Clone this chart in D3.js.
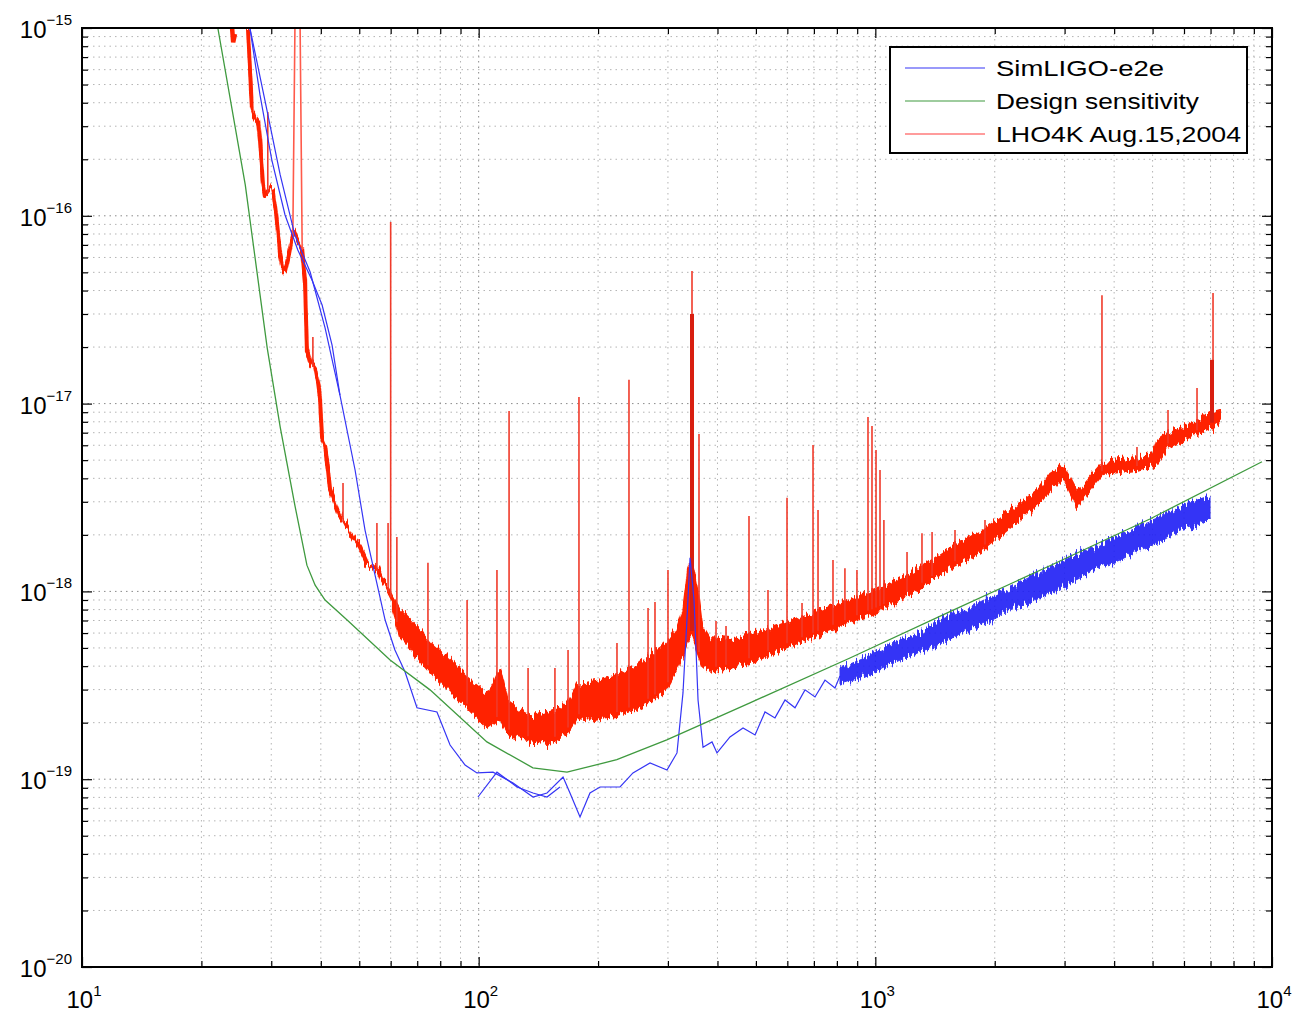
<!DOCTYPE html>
<html><head><meta charset="utf-8">
<script src="https://cdn.jsdelivr.net/npm/d3@7"></script>
<style>
body{margin:0;background:#fff}
text{font-family:"Liberation Sans",Arial,Helvetica,sans-serif;fill:#000}
</style>
</head><body>
<svg id="chart" width="1293" height="1013"></svg>
<script>
// ---------------- data ----------------
const xTickExp = ["1","2","3","4"];
const yTickExp = ["\u221220","\u221219","\u221218","\u221217","\u221216","\u221215"];
const legendLabels = ["SimLIGO-e2e","Design sensitivity","LHO4K Aug.15,2004"];

// Design sensitivity (green)
const designFreq   = [22.0,25.8,29.3,31.6,34.4,36.9,38.7,41.0,46.6,59.8,75.4,104.9,137,167,223,298,483,863,1542,2754,4922,9436];
const designStrain = [1.0e-15,1.46e-16,1.98e-17,7.5e-18,2.88e-18,1.38e-18,1.08e-18,9.0e-19,7.05e-19,4.31e-19,2.99e-19,1.58e-19,1.15e-19,1.09e-19,1.27e-19,1.62e-19,2.55e-19,4.42e-19,7.8e-19,1.37e-18,2.43e-18,4.9e-18];

// SimLIGO-e2e (blue) main trace
const simFreq   = [26.5,28.9,31.6,34.4,37.6,41.0,44.7,48.8,51.7,54.8,58.1,61.5,65.2,69.9,78.5,84.7,92.4,99.0,108.7,122.1,137.1,148.7,163.2,169.9,180.1,190.8,202.3,227.2,244.9,270.4,298.4,316.2,327.4,335.0,341.1,349.1,357.3,367.8,387.5,398.9,430.1,463.9,497.5,527,558.5,592,627.4,664.8,704.6,746.6,791.2,814.7];
const simStrain = [1.0e-15,4.14e-16,1.65e-16,7.9e-17,5.02e-17,2.53e-17,1.11e-17,4.43e-18,2.12e-18,1.22e-18,7.04e-19,4.88e-19,3.73e-19,2.40e-19,2.28e-19,1.52e-19,1.19e-19,1.08e-19,1.09e-19,9.55e-20,8.04e-20,8.44e-20,1.027e-19,8.44e-20,6.29e-20,8.44e-20,9.09e-20,9.09e-20,1.08e-19,1.22e-19,1.12e-19,1.38e-19,2.88e-19,7.04e-19,1.51e-18,9.0e-19,2.64e-19,1.48e-19,1.58e-19,1.38e-19,1.68e-19,1.875e-19,1.72e-19,2.28e-19,2.12e-19,2.64e-19,2.40e-19,2.99e-19,2.74e-19,3.37e-19,3.06e-19,3.55e-19];
// second SimLIGO traces (low-frequency and 100-160 Hz)
const simLowFreq   = [26.5,28.1,30.1,32.5,35.0,38.0,40.3,42.7,44.7];
const simLowStrain = [1.0e-15,4.40e-16,1.98e-16,1.01e-16,6.57e-17,4.55e-17,3.35e-17,2.05e-17,1.11e-17];
const simMidFreq   = [99.6,111.2,124.9,137.1,148.7,160.3];
const simMidStrain = [8.04e-20,1.09e-19,9.09e-20,8.44e-20,8.04e-20,9.09e-20];
// SimLIGO high-frequency noisy band (upper / lower edge)
const simBandFreq  = [814.7,915.0,1027.5,1154,1296,1455,1635,1836,2062,2316,2601,2922,3281,3685,4139,4647,5220,5861,6585,6979];
const simBandUpper = [3.91e-19,4.31e-19,4.88e-19,5.51e-19,6.08e-19,7.04e-19,7.77e-19,8.78e-19,9.93e-19,1.12e-18,1.27e-18,1.43e-18,1.60e-18,1.81e-18,2.0e-18,2.26e-18,2.49e-18,2.81e-18,3.11e-18,3.22e-18];
const simBandLower = [3.21e-19,3.45e-19,3.82e-19,4.31e-19,4.76e-19,5.25e-19,5.93e-19,6.54e-19,7.39e-19,8.36e-19,9.22e-19,1.042e-18,1.18e-18,1.33e-18,1.47e-18,1.66e-18,1.83e-18,2.12e-18,2.28e-18,2.46e-18];

// LHO4K Aug.15,2004 (red)
const lhoTopFreq   = [23.9,24.05,24.3];
const lhoTopStrain = [1.0e-15,8.4e-16,9.3e-16];
const lhoLowFreq   = [26.2,26.8,27.3,27.8,28.1,28.6,28.9,29.4,29.8,30.3,31.0,31.6,32.1,32.5,33.1,33.7,34.2,35.9,36.5,36.9,37.6,38.2,38.7,39.4,39.8,40.3,41.0,41.7,42.2,43.4,44.7,46.0,47.4,48.8,50.2,52.3,53.8,55.8,57.4,59.1,60.8];
const lhoLowStrain = [1.0e-15,3.75e-16,3.32e-16,3.16e-16,2.53e-16,1.46e-16,1.29e-16,1.35e-16,1.40e-16,1.37e-16,9.27e-17,6.18e-17,5.14e-17,5.02e-17,5.95e-17,7.25e-17,8.2e-17,6.57e-17,4.44e-17,1.93e-17,1.67e-17,1.61e-17,1.55e-17,1.26e-17,1.07e-17,6.56e-18,6.0e-18,4.43e-18,3.47e-18,2.96e-18,2.49e-18,2.34e-18,2.07e-18,1.88e-18,1.72e-18,1.42e-18,1.39e-18,1.30e-18,1.11e-18,1.017e-18,9.0e-19];
const lhoPeakFreq   = [34.0,34.6,35.3,35.9];
const lhoPeakStrain = [7.8e-17,3e-15,3e-15,6.6e-17];
const lhoBandFreq  = [60.8,63.3,67.1,71.1,76.7,84.7,93.5,104.9,109.9,113.2,117.9,127.1,137.1,148.7,160.3,169.9,177.0,190.8,202.3,223.2,244.9,270.4,286.5,298.4,316.2,327.4,337.1,345.0,355.2,365.6,383.0,430.1,483.1,575.1,645.9,768.6,863.5,1027.5,1274,1542,1868,2276,2601,2756,2972,3096,3224,3477,3750,4139,4567,5012,5129,5436,5965,6585,6979,7394];
const lhoBandUpper = [9.22e-19,7.96e-19,7.04e-19,6.23e-19,5.18e-19,4.31e-19,3.45e-19,2.81e-19,3.37e-19,3.91e-19,2.64e-19,2.34e-19,2.17e-19,2.28e-19,2.40e-19,2.64e-19,3.17e-19,3.29e-19,3.37e-19,3.59e-19,3.91e-19,4.59e-19,5.0e-19,5.38e-19,6.38e-19,7.96e-19,1.30e-18,1.47e-18,1.08e-18,6.62e-19,5.65e-19,5.51e-19,5.86e-19,6.62e-19,7.30e-19,8.26e-19,9.0e-19,1.042e-18,1.30e-18,1.70e-18,2.12e-18,2.85e-18,3.56e-18,4.22e-18,4.65e-18,4.02e-18,3.39e-18,4.07e-18,4.89e-18,5.01e-18,5.13e-18,5.46e-18,6.4e-18,6.98e-18,7.51e-18,8.18e-18,8.92e-18,9.25e-18];
const lhoBandLower = [7.77e-19,5.72e-19,5.0e-19,4.31e-19,3.59e-19,2.92e-19,2.40e-19,1.875e-19,2.02e-19,2.07e-19,1.764e-19,1.66e-19,1.58e-19,1.52e-19,1.66e-19,1.83e-19,2.12e-19,2.07e-19,2.12e-19,2.17e-19,2.34e-19,2.58e-19,2.81e-19,3.06e-19,3.82e-19,4.59e-19,5.51e-19,5.86e-19,4.88e-19,4.06e-19,3.73e-19,3.91e-19,4.21e-19,4.88e-19,5.38e-19,6.23e-19,6.87e-19,7.96e-19,1.017e-18,1.33e-18,1.66e-18,2.34e-18,2.96e-18,3.47e-18,4.02e-18,3.39e-18,2.85e-18,3.47e-18,4.22e-18,4.32e-18,4.43e-18,4.71e-18,4.89e-18,5.80e-18,6.4e-18,6.98e-18,7.42e-18,7.98e-18];
// spectral lines (frequency, peak height)
const lineFreq = [29.4,38.2,45.5,55.4,59.1,60.0,62.2,74.5,93.5,111.2,119.3,133.2,155.7,168.0,179.0,223.2,239.3,267.3,278.3,300.1,345.0,359.3,396.6,420.3,480.3,536.3,598.9,653.4,696.5,717.0,782.1,838.2,898.8,958.3,980.8,1004,1027.5,1051,1202,1311,1390,1588,1890,3727,4567,5468,6471,7101];
const linePeak = [3.57e-16,2.26e-17,3.78e-18,2.31e-18,2.31e-18,9.27e-17,1.95e-18,1.42e-18,9.0e-19,1.30e-18,9.14e-18,3.91e-19,3.91e-19,4.88e-19,1.084e-17,5.31e-19,1.34e-17,8.16e-19,8.78e-19,1.30e-18,5.08e-17,6.89e-18,6.96e-19,6.54e-19,2.52e-18,1.017e-18,3.15e-18,8.68e-19,6.02e-18,2.71e-18,1.47e-18,1.33e-18,1.30e-18,8.49e-18,7.6e-18,5.66e-18,4.43e-18,2.4e-18,1.62e-18,2.04e-18,2.07e-18,2.12e-18,2.4e-18,3.78e-17,5.87e-18,9.25e-18,1.21e-17,3.88e-17];
const strongLineFreq = [345.0,7060];
const strongLinePeak = [3.0e-17,1.71e-17];

// ---------------- layout ----------------
const L = 82, R = 1272, T = 28, B = 967;
const x = d3.scaleLog().domain([10, 1e4]).range([L, R]);
const y = d3.scaleLog().domain([1e-20, 1e-15]).range([B, T]);

const svg = d3.select("#chart");
svg.append("rect").attr("width",1293).attr("height",1013).attr("fill","#fff");
const defs = svg.append("defs");
defs.append("clipPath").attr("id","clip")
  .append("rect").attr("x",L).attr("y",T).attr("width",R-L).attr("height",B-T);
// vertical-only jitter filter to give the measured spectra their noisy texture
function noiseFilter(id, freq, scale, seed){
  const f = defs.append("filter").attr("id",id)
    .attr("filterUnits","userSpaceOnUse").attr("x",0).attr("y",0).attr("width",1293).attr("height",1013);
  f.append("feTurbulence").attr("type","fractalNoise").attr("baseFrequency",freq)
    .attr("numOctaves",2).attr("seed",seed).attr("result","t");
  f.append("feColorMatrix").attr("in","t").attr("type","matrix")
    .attr("values","0 0 0 0 0.5  0 1 0 0 0  0 0 0 0 0  0 0 0 0 1").attr("result","m");
  f.append("feDisplacementMap").attr("in","SourceGraphic").attr("in2","m")
    .attr("scale",scale).attr("xChannelSelector","R").attr("yChannelSelector","G");
}
noiseFilter("noiseRed","0.45 0.04",16,4);
noiseFilter("noiseBlue","0.5 0.05",18,9);

const isMajor = v => Math.abs(Math.log10(v) - Math.round(Math.log10(v))) < 1e-6;
const xAll = x.ticks(), yAll = y.ticks();
const xMajor = xAll.filter(isMajor), xMinor = xAll.filter(v => !isMajor(v));
const yMajor = yAll.filter(isMajor), yMinor = yAll.filter(v => !isMajor(v));

// grid
const grid = svg.append("g");
grid.selectAll(".gx").data(xAll).join("line")
  .attr("x1",d=>x(d)).attr("x2",d=>x(d)).attr("y1",T).attr("y2",B)
  .attr("stroke",d=>isMajor(d)?"#8a8a8a":"#b4b4b4").attr("stroke-width",1)
  .attr("stroke-dasharray","1.5,4");
grid.selectAll(".gy").data(yAll).join("line")
  .attr("y1",d=>y(d)).attr("y2",d=>y(d)).attr("x1",L).attr("x2",R)
  .attr("stroke",d=>isMajor(d)?"#8a8a8a":"#b4b4b4").attr("stroke-width",1)
  .attr("stroke-dasharray","1.5,4");

// ---------------- series ----------------
const zip = (a,b) => a.map((v,i)=>[v,b[i]]);
const line = d3.line().x(d=>x(d[0])).y(d=>y(d[1]));
const plot = svg.append("g").attr("clip-path","url(#clip)");

function interpY(fArr, vArr, f){
  const xs = fArr.map(v=>x(v)), px = x(f);
  const i = d3.bisectLeft(xs, px);
  if (i <= 0) return y(vArr[0]);
  if (i >= xs.length) return y(vArr[vArr.length-1]);
  const t = (px - xs[i-1])/(xs[i]-xs[i-1]);
  return y(vArr[i-1]) + t*(y(vArr[i]) - y(vArr[i-1]));
}
function baseY(f){
  return f < lhoBandFreq[0] ? interpY(lhoLowFreq, lhoLowStrain, f) + 2
                            : interpY(lhoBandFreq, lhoBandLower, f) - 4;
}

const RED = "#ff2200";
// red band
const bandData = lhoBandFreq.map((f,i)=>[f,lhoBandUpper[i],lhoBandLower[i]]);
const redG = plot.append("g").attr("filter","url(#noiseRed)");
redG.append("path").datum(bandData)
  .attr("d", d3.area().x(d=>x(d[0])).y0(d=>y(d[2])).y1(d=>y(d[1])))
  .attr("fill",RED).attr("stroke",RED).attr("stroke-width",2).attr("stroke-linejoin","round");
// red low-frequency trace
redG.append("path").datum(zip(lhoLowFreq,lhoLowStrain)).attr("d",line)
  .attr("fill","none").attr("stroke",RED).attr("stroke-width",4).attr("stroke-linejoin","round");
plot.append("path").datum(zip(lhoTopFreq,lhoTopStrain)).attr("d",line)
  .attr("fill","none").attr("stroke",RED).attr("stroke-width",4.5);
plot.append("path").datum(zip(lhoPeakFreq,lhoPeakStrain)).attr("d",line)
  .attr("fill","none").attr("stroke","#ff5a4a").attr("stroke-width",1.6);
// spectral lines
plot.selectAll(".spk").data(zip(lineFreq,linePeak)).join("line")
  .attr("x1",d=>x(d[0])).attr("x2",d=>x(d[0]))
  .attr("y1",d=>baseY(d[0])).attr("y2",d=>y(d[1]))
  .attr("stroke","#f03a2a").attr("stroke-width",1.6);
plot.selectAll(".spk2").data(zip(strongLineFreq,strongLinePeak)).join("line")
  .attr("x1",d=>x(d[0])).attr("x2",d=>x(d[0]))
  .attr("y1",d=>baseY(d[0])).attr("y2",d=>y(d[1]))
  .attr("stroke","#d81e10").attr("stroke-width",4);

// blue
const BLUE = "#3535f5";
plot.append("path").datum(zip(simFreq,simStrain)).attr("d",line)
  .attr("fill","none").attr("stroke",BLUE).attr("stroke-width",1.2);
plot.append("path").datum(zip(simLowFreq,simLowStrain)).attr("d",line)
  .attr("fill","none").attr("stroke",BLUE).attr("stroke-width",1.2);
plot.append("path").datum(zip(simMidFreq,simMidStrain)).attr("d",line)
  .attr("fill","none").attr("stroke",BLUE).attr("stroke-width",1.2);
const simBand = simBandFreq.map((f,i)=>[f,simBandUpper[i],simBandLower[i]]);
plot.append("g").attr("filter","url(#noiseBlue)").append("path").datum(simBand)
  .attr("d", d3.area().x(d=>x(d[0])).y0(d=>y(d[2])).y1(d=>y(d[1])))
  .attr("fill","#1e1ef5").attr("fill-opacity",0.9).attr("stroke",BLUE).attr("stroke-width",1);

// green
plot.append("path").datum(zip(designFreq,designStrain)).attr("d",line)
  .attr("fill","none").attr("stroke","#3f9a3f").attr("stroke-width",1.3);

// ---------------- axes ----------------
function ticks(axis, vals, size, tr){
  const g = svg.append("g").attr("transform",tr)
    .call(axis.tickValues(vals).tickSizeInner(-size).tickSizeOuter(0).tickFormat(""));
  g.select(".domain").remove();
  g.selectAll("line").attr("stroke","#000").attr("stroke-width",1.2);
}
ticks(d3.axisBottom(x), xMajor, 10, `translate(0,${B})`);
ticks(d3.axisBottom(x), xMinor, 6, `translate(0,${B})`);
ticks(d3.axisTop(x), xMajor, 10, `translate(0,${T})`);
ticks(d3.axisTop(x), xMinor, 6, `translate(0,${T})`);
ticks(d3.axisLeft(y), yMajor, 10, `translate(${L},0)`);
ticks(d3.axisLeft(y), yMinor, 6, `translate(${L},0)`);
ticks(d3.axisRight(y), yMajor, 10, `translate(${R},0)`);
ticks(d3.axisRight(y), yMinor, 6, `translate(${R},0)`);
svg.append("rect").attr("x",L).attr("y",T).attr("width",R-L).attr("height",B-T)
  .attr("fill","none").attr("stroke","#000").attr("stroke-width",2);

// tick labels
xMajor.forEach((v,i)=>{
  const t = svg.append("text").attr("x",x(v)+2).attr("y",1008).attr("text-anchor","middle");
  t.append("tspan").attr("font-size",24).text("10");
  t.append("tspan").attr("font-size",15).attr("dy",-12).text(xTickExp[i]);
});
yMajor.forEach((v,i)=>{
  const t = svg.append("text").attr("x",L-10).attr("y",y(v)+10).attr("text-anchor","end");
  t.append("tspan").attr("font-size",24).text("10");
  t.append("tspan").attr("font-size",15).attr("dy",-13).text(yTickExp[i]);
});

// ---------------- legend ----------------
const legendColors = [BLUE,"#3f9a3f","#ff3a3a"];
const legendWidths = [168,203,245];
const lg = svg.append("g");
lg.append("rect").attr("x",890).attr("y",47).attr("width",357).attr("height",106)
  .attr("fill","#fff").attr("stroke","#000").attr("stroke-width",2);
legendLabels.forEach((lab,i)=>{
  const yy = 68 + i*33;
  lg.append("line").attr("x1",905).attr("x2",985).attr("y1",yy).attr("y2",yy)
    .attr("stroke",legendColors[i]).attr("stroke-width",1.2);
  lg.append("text").attr("x",996).attr("y",yy+8).attr("font-size",22)
    .attr("textLength",legendWidths[i]).attr("lengthAdjust","spacingAndGlyphs").text(lab);
});
</script>
</body></html>
